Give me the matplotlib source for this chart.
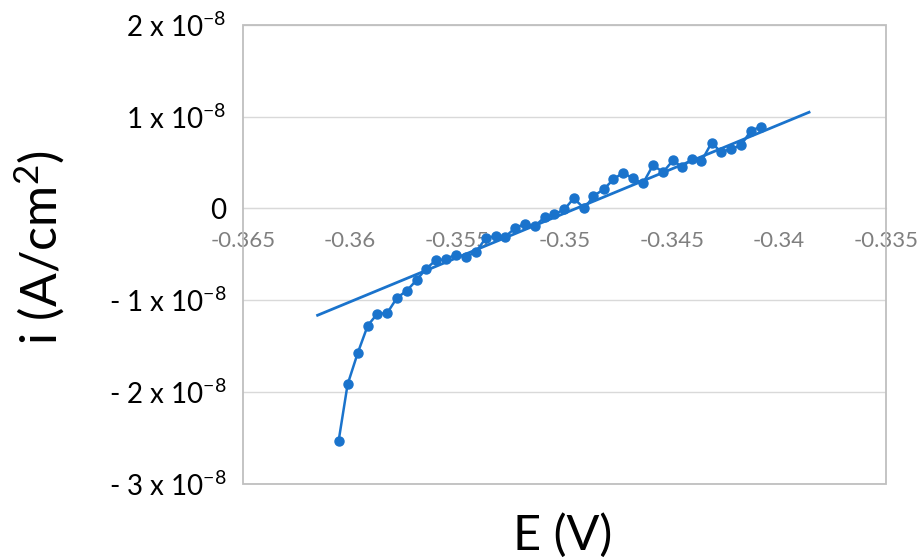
import matplotlib
matplotlib.use("Agg")
import matplotlib.pyplot as plt
from matplotlib.patches import Rectangle

plt.rcParams['font.family'] = ['Lato', 'DejaVu Sans']
plt.rcParams['mathtext.fontset'] = 'custom'
plt.rcParams['mathtext.rm'] = 'Lato'
plt.rcParams['mathtext.it'] = 'Lato:italic'
plt.rcParams['mathtext.bf'] = 'Lato:bold'

# Data (E in V, i in A/cm^2)
E = [-0.36054, -0.36012, -0.35965, -0.35918, -0.35874, -0.35827, -0.35781, -0.35737,
     -0.35690, -0.35648, -0.35601, -0.35555, -0.35508, -0.35461, -0.35414, -0.35367,
     -0.35321, -0.35277, -0.35230, -0.35184, -0.35138, -0.35093, -0.35048, -0.35001,
     -0.34957, -0.34907, -0.34865, -0.34818, -0.34772, -0.34728, -0.34681, -0.34634,
     -0.34587, -0.34540, -0.34493, -0.34452, -0.34405, -0.34361, -0.34314, -0.34268,
     -0.34221, -0.34177, -0.34130, -0.34084]
i_vals = [-2.533, -1.916, -1.576, -1.275, -1.149, -1.138, -0.971, -0.899,
          -0.779, -0.663, -0.565, -0.554, -0.503, -0.529, -0.475, -0.323,
          -0.301, -0.308, -0.214, -0.166, -0.192, -0.096, -0.065, -0.011,
          0.109, 0.000, 0.134, 0.207, 0.315, 0.388, 0.329, 0.272,
          0.471, 0.395, 0.525, 0.449, 0.540, 0.514, 0.714, 0.612,
          0.652, 0.685, 0.848, 0.888]
i_scale = 1e-8

# Linear trendline endpoints
fit_E = [-0.36152, -0.33859]
fit_i = [-1.163, 1.047]

x_ticks = [-0.365, -0.36, -0.355, -0.35, -0.345, -0.34, -0.335]
x_tick_labels = ['-0.365', '-0.36', '-0.355', '-0.35', '-0.345', '-0.34', '-0.335']
y_ticks = [-3, -2, -1, 0, 1, 2]
y_tick_labels = [r'- 3 x 10$\mathregular{^{-8}}$', r'- 2 x 10$\mathregular{^{-8}}$',
                 r'- 1 x 10$\mathregular{^{-8}}$', '0',
                 r'1 x 10$\mathregular{^{-8}}$', r'2 x 10$\mathregular{^{-8}}$']

color = '#1A73CC'

fig = plt.figure(figsize=(9.22, 5.59), dpi=100)
ax = fig.add_axes([243/922, 1 - 484/559, (886-243)/922, (484-24.7)/559])

ax.plot(E, [v * i_scale for v in i_vals], '-o', color=color, lw=1.8, ms=6.5, zorder=3)
ax.plot(fit_E, [v * i_scale for v in fit_i], '-', color=color, lw=2.0, zorder=3)

ax.set_xlim(-0.365, -0.335)
ax.set_ylim(-3e-8, 2e-8)

ax.grid(axis='y', color='#d9d9d9', lw=1)
ax.set_axisbelow(True)

for s in ['top', 'right', 'left']:
    ax.spines[s].set_visible(False)
ax.spines['bottom'].set_position(('data', 0))
ax.spines['bottom'].set_color('#d9d9d9')

ax.set_xticks(x_ticks)
ax.set_xticklabels(x_tick_labels)
ax.set_yticks([v * i_scale for v in y_ticks])
ax.set_yticklabels(y_tick_labels)
ax.tick_params(axis='x', length=0, pad=16, labelsize=16, labelcolor='#7f7f7f')
ax.tick_params(axis='y', length=0, pad=12, labelsize=20, labelcolor='black')

ax.add_patch(Rectangle((0, 0), 1, 1, transform=ax.transAxes, fill=False,
                       edgecolor='#bfbfbf', lw=1.3, clip_on=False, zorder=5))

fig.text(563/922, 1 - 535/559, 'E (V)', fontsize=35, ha='center', va='center')
fig.text(40/922, 1 - 248/559, 'i (A/cm$\\mathregular{^2}$)', fontsize=36,
         ha='center', va='center', rotation=90)

fig.savefig('out.png', dpi=100)
